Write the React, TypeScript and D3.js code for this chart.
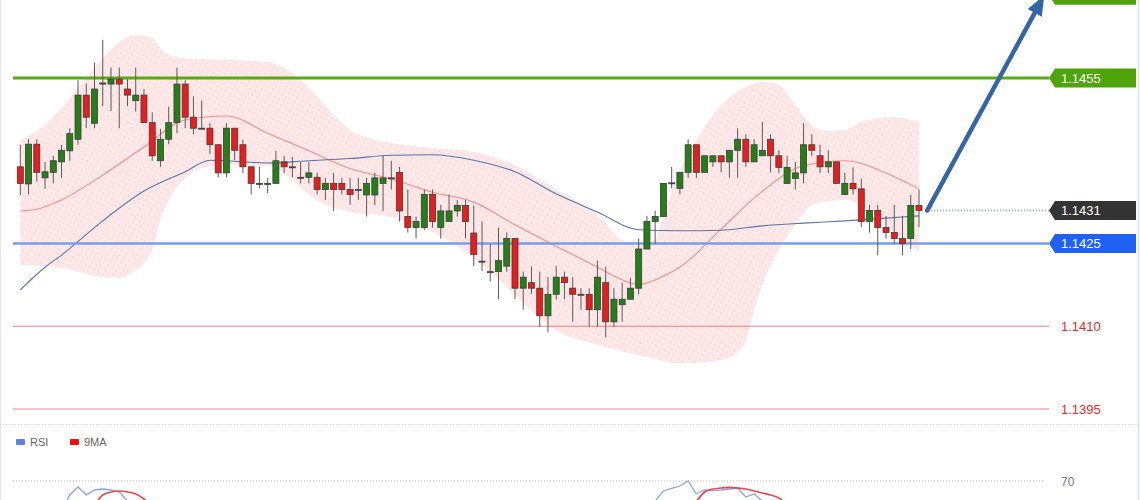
import React from 'react';
import * as d3 from 'd3';

const W = 1140;
const H = 500;

// ---------- candle data (EUR/USD style prices) ----------
const openP = [
  1.14389, 1.14358, 1.14430, 1.14369, 1.14379, 1.14398, 1.14418, 1.14439, 1.14519, 1.14468,
  1.14539, 1.14539, 1.14548, 1.14530, 1.14509, 1.14519, 1.14469, 1.14400, 1.14439, 1.14469,
  1.14539, 1.14479, 1.14459, 1.14459, 1.14429, 1.14378, 1.14459, 1.14429, 1.14389, 1.14359,
  1.14359, 1.14359, 1.14398, 1.14389, 1.14370, 1.14370, 1.14370, 1.14348, 1.14359, 1.14359,
  1.14348, 1.14348, 1.14338, 1.14338, 1.14359, 1.14369, 1.14379, 1.14299, 1.14279, 1.14279,
  1.14339, 1.14279, 1.14290, 1.14309, 1.14319, 1.14269, 1.14218, 1.14199, 1.14199, 1.14209,
  1.14259, 1.14169, 1.14179, 1.14169, 1.14119, 1.14158, 1.14189, 1.14169, 1.14158, 1.14158,
  1.14130, 1.14179, 1.14108, 1.14139, 1.14149, 1.14169, 1.14240, 1.14290, 1.14299, 1.14359,
  1.14350, 1.14379, 1.14429, 1.14379, 1.14398, 1.14409, 1.14398, 1.14419, 1.14439, 1.14398,
  1.14409, 1.14439, 1.14409, 1.14359, 1.14368, 1.14378, 1.14429, 1.14409, 1.14389, 1.14398,
  1.14339, 1.14359, 1.14349, 1.14290, 1.14310, 1.14279, 1.14270, 1.14259, 1.14259, 1.14319,
];
const highP = [
  1.14429, 1.14439, 1.14439, 1.14398, 1.14409, 1.14429, 1.14459, 1.14546, 1.14539, 1.14578,
  1.14619, 1.14569, 1.14569, 1.14548, 1.14569, 1.14530, 1.14488, 1.14458, 1.14498, 1.14569,
  1.14546, 1.14517, 1.14509, 1.14468, 1.14429, 1.14468, 1.14459, 1.14438, 1.14389, 1.14389,
  1.14369, 1.14418, 1.14409, 1.14407, 1.14398, 1.14398, 1.14378, 1.14369, 1.14378, 1.14369,
  1.14369, 1.14369, 1.14369, 1.14378, 1.14409, 1.14400, 1.14389, 1.14348, 1.14299, 1.14348,
  1.14348, 1.14320, 1.14339, 1.14329, 1.14329, 1.14319, 1.14290, 1.14249, 1.14279, 1.14270,
  1.14259, 1.14199, 1.14208, 1.14199, 1.14189, 1.14209, 1.14199, 1.14189, 1.14169, 1.14169,
  1.14219, 1.14208, 1.14169, 1.14179, 1.14188, 1.14259, 1.14300, 1.14309, 1.14359, 1.14389,
  1.14379, 1.14439, 1.14429, 1.14409, 1.14409, 1.14409, 1.14419, 1.14459, 1.14448, 1.14439,
  1.14470, 1.14448, 1.14419, 1.14409, 1.14398, 1.14468, 1.14448, 1.14429, 1.14419, 1.14398,
  1.14378, 1.14388, 1.14368, 1.14320, 1.14320, 1.14300, 1.14320, 1.14300, 1.14338, 1.14348,
];
const lowP = [
  1.14338, 1.14339, 1.14362, 1.14349, 1.14359, 1.14369, 1.14400, 1.14429, 1.14459, 1.14459,
  1.14499, 1.14490, 1.14459, 1.14499, 1.14489, 1.14468, 1.14400, 1.14389, 1.14430, 1.14450,
  1.14459, 1.14448, 1.14458, 1.14412, 1.14370, 1.14370, 1.14401, 1.14378, 1.14339, 1.14350,
  1.14341, 1.14359, 1.14378, 1.14370, 1.14359, 1.14359, 1.14339, 1.14329, 1.14309, 1.14339,
  1.14320, 1.14329, 1.14299, 1.14320, 1.14309, 1.14348, 1.14290, 1.14270, 1.14259, 1.14274,
  1.14279, 1.14259, 1.14290, 1.14299, 1.14259, 1.14209, 1.14200, 1.14181, 1.14149, 1.14199,
  1.14149, 1.14130, 1.14158, 1.14099, 1.14089, 1.14149, 1.14149, 1.14108, 1.14130, 1.14099,
  1.14099, 1.14080, 1.14099, 1.14108, 1.14149, 1.14158, 1.14240, 1.14249, 1.14299, 1.14350,
  1.14339, 1.14369, 1.14369, 1.14379, 1.14389, 1.14379, 1.14369, 1.14369, 1.14389, 1.14398,
  1.14409, 1.14379, 1.14378, 1.14359, 1.14348, 1.14359, 1.14409, 1.14378, 1.14378, 1.14359,
  1.14339, 1.14339, 1.14280, 1.14270, 1.14229, 1.14259, 1.14250, 1.14229, 1.14240, 1.14280,
];
const closeP = [
  1.14359, 1.14430, 1.14379, 1.14380, 1.14400, 1.14419, 1.14449, 1.14519, 1.14479, 1.14530,
  1.14541, 1.14548, 1.14539, 1.14519, 1.14519, 1.14469, 1.14409, 1.14439, 1.14469, 1.14539,
  1.14479, 1.14459, 1.14458, 1.14429, 1.14378, 1.14459, 1.14419, 1.14389, 1.14359, 1.14358,
  1.14358, 1.14400, 1.14389, 1.14388, 1.14369, 1.14378, 1.14348, 1.14359, 1.14348, 1.14348,
  1.14339, 1.14347, 1.14359, 1.14369, 1.14369, 1.14368, 1.14309, 1.14279, 1.14290, 1.14339,
  1.14290, 1.14309, 1.14309, 1.14319, 1.14290, 1.14230, 1.14217, 1.14198, 1.14219, 1.14259,
  1.14169, 1.14189, 1.14169, 1.14119, 1.14158, 1.14189, 1.14179, 1.14158, 1.14157, 1.14130,
  1.14189, 1.14108, 1.14149, 1.14149, 1.14169, 1.14240, 1.14290, 1.14299, 1.14359, 1.14360,
  1.14379, 1.14429, 1.14379, 1.14409, 1.14409, 1.14398, 1.14419, 1.14439, 1.14398, 1.14429,
  1.14419, 1.14409, 1.14388, 1.14388, 1.14378, 1.14429, 1.14419, 1.14389, 1.14398, 1.14359,
  1.14359, 1.14349, 1.14290, 1.14310, 1.14279, 1.14270, 1.14259, 1.14250, 1.14319, 1.14310,
];

// ---------- indicator lines (candle index, price) ----------
const midIdx = [0, 2, 5, 10, 15, 20, 25, 30, 35, 40, 45, 50, 55, 60, 65, 70, 72, 75, 77, 78, 80, 85, 90, 95, 100, 105, 109];
const midBand = [1.14309, 1.14312, 1.14329, 1.14374, 1.14425, 1.14474, 1.14481, 1.14450, 1.14418, 1.14386, 1.14367, 1.14343, 1.14325, 1.14284, 1.14245, 1.14207, 1.14191, 1.14176, 1.14184, 1.14191, 1.14207, 1.14276, 1.14345, 1.14391, 1.14400, 1.14378, 1.14349];

const maIdx = [0, 3, 5, 10, 15, 20, 23, 25, 30, 35, 40, 45, 50, 55, 60, 65, 70, 75, 80, 85, 90, 95, 100, 105, 109];
const maLine = [1.14166, 1.14207, 1.14229, 1.14291, 1.14345, 1.14380, 1.14401, 1.14400, 1.14396, 1.14400, 1.14404, 1.14410, 1.14411, 1.14401, 1.14380, 1.14340, 1.14307, 1.14275, 1.14273, 1.14274, 1.14282, 1.14287, 1.14291, 1.14296, 1.14300];

const upIdx = [0, 3, 5, 8, 10, 12, 14, 16, 17, 18, 20, 25, 30, 32, 35, 38, 40, 43, 45, 50, 55, 60, 65, 70, 73, 75, 77, 78, 80, 82, 84, 85, 87, 89, 90, 92, 94, 96, 98, 100, 102, 104, 106, 109];
const upperBand = [1.14438, 1.14465, 1.14496, 1.14550, 1.14586, 1.14615, 1.14628, 1.14623, 1.14604, 1.14592, 1.14586, 1.14583, 1.14579, 1.14568, 1.14532, 1.14483, 1.14456, 1.14438, 1.14432, 1.14423, 1.14416, 1.14392, 1.14347, 1.14302, 1.14256, 1.14247, 1.14256, 1.14302, 1.14383, 1.14438, 1.14483, 1.14501, 1.14525, 1.14539, 1.14543, 1.14537, 1.14501, 1.14465, 1.14454, 1.14456, 1.14470, 1.14477, 1.14479, 1.14470];

const loIdx = [0, 5, 10, 12, 14, 16, 17, 18, 20, 22, 25, 30, 33, 35, 40, 45, 50, 55, 60, 63, 65, 70, 75, 80, 85, 87, 88, 89, 90, 92, 94, 96, 100, 103, 106, 109];
const lowerBand = [1.14211, 1.14206, 1.14189, 1.14188, 1.14202, 1.14238, 1.14293, 1.14329, 1.14369, 1.14387, 1.14392, 1.14391, 1.14365, 1.14338, 1.14307, 1.14298, 1.14271, 1.14224, 1.14157, 1.14115, 1.14093, 1.14066, 1.14048, 1.14033, 1.14039, 1.14053, 1.14075, 1.14130, 1.14175, 1.14238, 1.14284, 1.14320, 1.14329, 1.14311, 1.14271, 1.14235];

// ---------- levels ----------
const resistance = 1.1455;
const support = 1.1425;
const lowerLevels = [1.1410, 1.1395];
const lastPrice = 1.1431;
const targetPrice = 1.1470;
const arrowFrom = 110;
const arrowTo = 124.2;

// ---------- RSI panel (only visible stretches near the 70 line) ----------
const rsiIdxA = [5, 6, 7, 8, 9, 10, 11, 12, 13, 14];
const rsiValA = [55, 63, 67, 63, 65.5, 66, 65.5, 64.5, 60, 55];
const maIdxA = [9, 10, 11, 12, 13, 14, 15, 16];
const maValA = [58, 63, 64.5, 65, 64.5, 63.5, 61, 57];
const rsiIdxB = [76, 77, 78, 79, 80, 81, 82, 83, 84, 85, 86, 87, 88, 89, 90, 91];
const rsiValB = [55, 60, 65, 66.3, 67.5, 70, 63.5, 65.5, 65.2, 65.5, 66, 66.5, 62, 63.5, 60, 55];
const maIdxB = [81, 82, 83, 84, 85, 86, 87, 88, 89, 90, 91, 92, 93];
const maValB = [56, 60, 64.5, 66, 66.5, 66.8, 66.5, 66, 65, 64, 63, 61.5, 58];
const rsiLevel = 70;

const FONT = '"Liberation Sans", Arial, sans-serif';

export default function App() {
  const n = closeP.length;
  const x = d3.scaleLinear().domain([0, n - 1]).range([20.3, 919]);
  const y = d3.scaleLinear().domain([1.1395, 1.1455]).range([409, 78]);
  const yR = d3.scaleLinear().domain([70, 50]).range([481, 521]);

  const pts = (idx: number[], vals: number[]) => idx.map((d, i) => [x(d), y(vals[i])] as [number, number]);
  const smooth = d3.line().curve(d3.curveMonotoneX);

  const upPts = pts(upIdx, upperBand);
  const loPts = pts(loIdx, lowerBand).reverse();
  const upPath = smooth(upPts) || '';
  const loPath = smooth(loPts) || '';
  const bandPath = upPath + 'L' + loPath.slice(1) + 'Z';

  const midPath = smooth(pts(midIdx, midBand)) || '';
  const maPath = smooth(pts(maIdx, maLine)) || '';

  const rsiLine = (idx: number[], vals: number[]) =>
    d3.line().curve(d3.curveLinear)(idx.map((d, i) => [x(d), yR(vals[i])] as [number, number])) || '';
  const maRsiLine = (idx: number[], vals: number[]) =>
    d3.line().curve(d3.curveMonotoneX)(idx.map((d, i) => [x(d), yR(vals[i])] as [number, number])) || '';

  const lineStart = 13;
  const tagX0 = 1049;
  const tagX1 = 1136;
  const tag = (yc: number, h = 19) =>
    `M${tagX0},${yc} L${tagX0 + 6},${yc - h / 2} L${tagX1},${yc - h / 2} L${tagX1},${yc + h / 2} L${tagX0 + 6},${yc + h / 2} Z`;

  // arrow
  const ax0 = x(arrowFrom), ay0 = y(lastPrice);
  const ax1 = x(arrowTo), ay1 = y(targetPrice);
  const len = Math.hypot(ax1 - ax0, ay1 - ay0);
  const ux = (ax1 - ax0) / len, uy = (ay1 - ay0) / len;
  const headL = 20, headW = 8;
  const bx = ax1 - ux * headL, by = ay1 - uy * headL;
  const head = `M${ax1},${ay1} L${bx + uy * headW},${by - ux * headW} L${bx - uy * headW},${by + ux * headW} Z`;

  const bodyW = 6;

  return (
    <svg width={W} height={H} style={{ position: 'absolute', left: 0, top: 0, display: 'block', background: '#fff' }}
      fontFamily={FONT}>
      <defs>
        <pattern id="bbdots" width="5" height="5" patternUnits="userSpaceOnUse" patternTransform="rotate(30)">
          <rect width="5" height="5" fill="#fde7e7" />
          <circle cx="1.2" cy="1.2" r="0.6" fill="#f8cccc" />
        </pattern>
        <clipPath id="priceClip"><rect x="0" y="0" width={W} height="424" /></clipPath>
        <clipPath id="rsiClip"><rect x="0" y="425" width={W} height="75" /></clipPath>
      </defs>

      {/* side borders */}
      <line x1={0.5} x2={0.5} y1={0} y2={H} stroke="#e3e7ec" strokeWidth={1} />
      <line x1={1138.5} x2={1138.5} y1={0} y2={H} stroke="#e3e7ec" strokeWidth={2} />

      <g clipPath="url(#priceClip)">
        {/* bollinger band fill */}
        <path d={bandPath} fill="url(#bbdots)" stroke="none" />
        {/* middle band and moving average */}
        <path d={midPath} fill="none" stroke="#f29090" strokeWidth={1.1} />
        <path d={maPath} fill="none" stroke="#5577aa" strokeWidth={1.1} />

        {/* horizontal levels */}
        {lowerLevels.map((p) => (
          <line key={p} x1={lineStart} x2={tagX0} y1={y(p)} y2={y(p)} stroke="#f08080" strokeWidth={1} />
        ))}
        <line x1={lineStart} x2={tagX0} y1={y(support)} y2={y(support)} stroke="#729ff0" strokeWidth={2.5} />
        <line x1={lineStart} x2={tagX0} y1={y(resistance)} y2={y(resistance)} stroke="#5aaa14" strokeWidth={3} />

        {/* candles */}
        {closeP.map((c, i) => {
          const o = openP[i];
          const up = c >= o;
          const top = y(Math.max(o, c));
          const bot = y(Math.min(o, c));
          const h = Math.max(1, bot - top);
          return (
            <g key={i}>
              <line x1={x(i)} x2={x(i)} y1={y(highP[i])} y2={y(lowP[i])} stroke="#5a5a5a" strokeWidth={1} />
              <rect x={x(i) - bodyW / 2} y={top} width={bodyW} height={h}
                fill={up ? '#237f16' : '#ea1c1c'} stroke="#3c3c3c" strokeWidth={0.8} />
            </g>
          );
        })}

        {/* last price dotted line */}
        <line x1={x(arrowFrom) - 2} x2={tagX0} y1={y(lastPrice)} y2={y(lastPrice)} stroke="#8e9fc4" strokeWidth={2} strokeDasharray="1,2" />

        {/* arrow */}
        <line x1={ax0} y1={ay0} x2={bx + ux * 2} y2={by + uy * 2} stroke="#3366a6" strokeWidth={4.5} strokeLinecap="round" />
        <path d={head} fill="#3366a6" />

        {/* price tags */}
        <path d={tag(y(targetPrice))} fill="#4fa30b" />

        <path d={tag(y(resistance))} fill="#4fa30b" />
        <text x={1061} y={y(resistance) + 4.5} fill="#fff" fontSize={13}>{resistance.toFixed(4)}</text>

        <path d={tag(y(lastPrice))} fill="#333333" />
        <text x={1061} y={y(lastPrice) + 4.5} fill="#fff" fontSize={13}>{lastPrice.toFixed(4)}</text>

        <path d={tag(y(support))} fill="#1f62f2" />
        <text x={1061} y={y(support) + 4.5} fill="#fff" fontSize={13}>{support.toFixed(4)}</text>

        {lowerLevels.map((p) => (
          <text key={p} x={1061} y={y(p) + 4.5} fill="#f02828" fontSize={13}>{p.toFixed(4)}</text>
        ))}
      </g>

      {/* panel separator */}
      <line x1={0} x2={W} y1={424.5} y2={424.5} stroke="#d6d6d6" strokeWidth={1} strokeDasharray="1,2" />

      {/* RSI legend */}
      <rect x={16} y={439} width={9} height={6} rx={1} fill="#5b86e0" />
      <text x={30} y={446} fontSize={11} fill="#666">RSI</text>
      <rect x={70} y={439} width={9} height={6} rx={1} fill="#ee1111" />
      <text x={84} y={446} fontSize={11} fill="#666">9MA</text>

      {/* RSI 70 level */}
      <line x1={lineStart} x2={1045} y1={yR(rsiLevel)} y2={yR(rsiLevel)} stroke="#b8b8b8" strokeWidth={1} strokeDasharray="1,2" />
      <text x={1061} y={yR(rsiLevel) + 4.5} fontSize={12} fill="#777">{rsiLevel}</text>

      <g clipPath="url(#rsiClip)">
        <path d={rsiLine(rsiIdxA, rsiValA)} fill="none" stroke="#86a6ea" strokeWidth={1.3} />
        <path d={rsiLine(rsiIdxB, rsiValB)} fill="none" stroke="#86a6ea" strokeWidth={1.3} />
        <path d={maRsiLine(maIdxA, maValA)} fill="none" stroke="#ec4848" strokeWidth={1.6} />
        <path d={maRsiLine(maIdxB, maValB)} fill="none" stroke="#ec4848" strokeWidth={1.6} />
      </g>
    </svg>
  );
}
